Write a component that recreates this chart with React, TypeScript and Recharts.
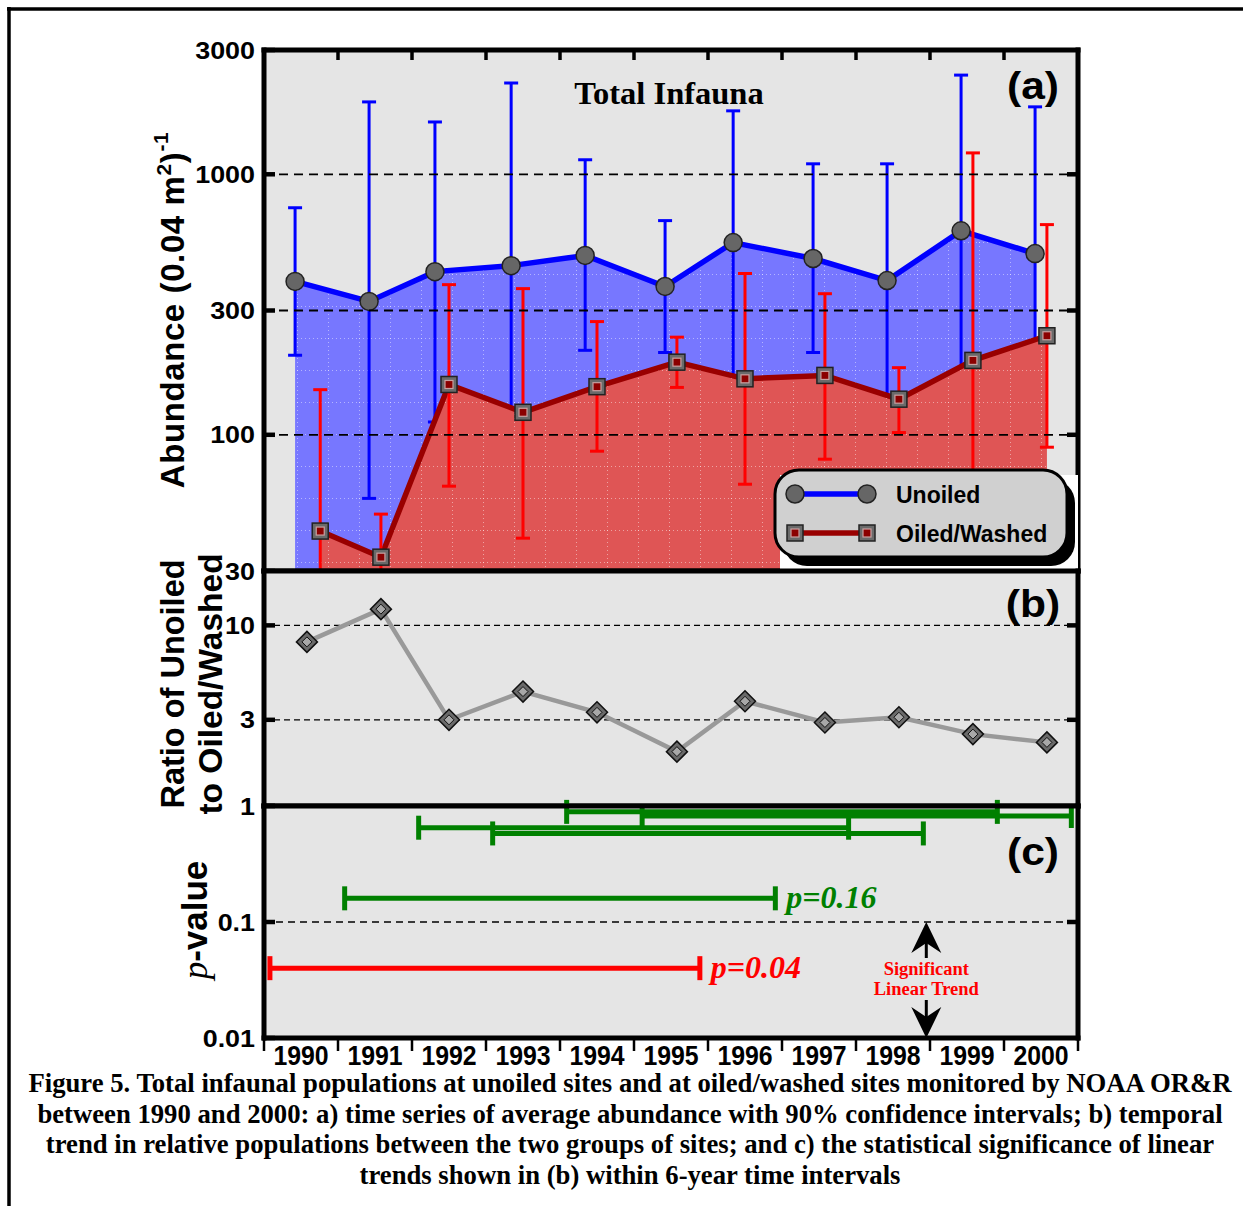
import React from 'react';
import {
  ComposedChart,
  Area,
  Line,
  Scatter,
  ErrorBar,
  XAxis,
  YAxis,
  CartesianGrid,
  ReferenceLine,
  Legend,
} from 'recharts';

// ---------------------------------------------------------------------------
// Data
// ---------------------------------------------------------------------------
const years = [1990, 1991, 1992, 1993, 1994, 1995, 1996, 1997, 1998, 1999, 2000];

// (a) mean abundance with 90% confidence limits, by sampling time (fractional year)
const unoiledTime = [1989.92, 1990.92, 1991.81, 1992.84, 1993.84, 1994.92, 1995.84, 1996.92, 1997.92, 1998.92, 1999.92];
const unoiledMean = [388, 325, 423, 446, 488, 371, 547, 475, 391, 607, 496];
const unoiledLower = [202, 57, 112, 95, 211, 207, 120, 207, 120, 140, 170];
const unoiledUpper = [744, 1896, 1588, 2241, 1137, 664, 1752, 1097, 1097, 2403, 1815];

const oiledTime = [1990.26, 1991.08, 1992.0, 1993.0, 1994.0, 1995.08, 1996.0, 1997.08, 1998.08, 1999.08, 2000.08];
const oiledMean = [42.7, 33.9, 156, 122, 153, 190, 164, 169, 137, 193, 240];
const oiledLower = [10, 15, 63.5, 40.1, 86.5, 152, 64.6, 80.6, 102, 20, 89.6];
const oiledUpper = [149, 49.6, 377, 364, 272, 237, 416, 348, 181, 1208, 641];

// (b) ratio of unoiled to oiled/washed abundance
const ratioTime = [1990.08, 1991.08, 1992.0, 1993.0, 1994.0, 1995.08, 1996.0, 1997.08, 1998.08, 1999.08, 2000.08];
const ratioValue = [8.1, 12.3, 3.0, 4.3, 3.3, 2.0, 3.8, 2.9, 3.1, 2.5, 2.25];

// (c) p-values of linear trends within 6-year windows
const trendStart = [1989.58, 1990.59, 1991.59, 1992.59, 1993.59, 1994.61];
const trendEnd = [1995.39, 1996.41, 1997.4, 1998.41, 1999.41, 2000.41];
const trendP = [0.04, 0.16, 0.65, 0.58, 0.89, 0.82];
const trendLabel = ['p=0.04', 'p=0.16', '', '', '', ''];
const SIGNIFICANCE = 0.1;

// axis ticks and grid levels
const abundanceDomain: [number, number] = [30, 3000];
const abundanceTicks = [30, 100, 300, 1000, 3000];
const abundanceGrid = [100, 300, 1000];
const ratioDomain: [number, number] = [1, 20];
const ratioTicks = [1, 3, 10];
const ratioGrid = [3, 10];
const pDomain: [number, number] = [0.01, 1];
const pTicks = [0.01, 0.1, 1];
const pTickLabels = [0.01, 0.1];
const pGrid = [0.1];

// ---------------------------------------------------------------------------
// Layout & style
// ---------------------------------------------------------------------------
const PAGE_W = 1243;
const PAGE_H = 1206;
const LEFT = 264;
const RIGHT = 1078;
const PANEL_A = { top: 50, bottom: 571 };
const PANEL_B = { top: 571, bottom: 806 };
const PANEL_C = { top: 806, bottom: 1038 };
const X_DOMAIN: [number, number] = [years[0] - 0.5, years[years.length - 1] + 0.5];
const yearBounds = [...years.map((y) => y - 0.5), years[years.length - 1] + 0.5];
const innerBounds = yearBounds.slice(1, -1);

const PANEL_BG = '#e5e5e5';
const BLUE = '#0000ff';
const DARK_RED = '#990000';
const RED = '#ff0000';
const GREEN = '#008000';
const SANS = "'Liberation Sans', Arial, Helvetica, sans-serif";
const SERIF = "'Liberation Serif', 'Times New Roman', Times, serif";
const AXIS_LINE = { stroke: '#000', strokeWidth: 5, strokeLinecap: 'square' as const };

const unoiledRows = unoiledTime.map((x, i) => ({
  x,
  y: unoiledMean[i],
  err: [unoiledMean[i] - unoiledLower[i], unoiledUpper[i] - unoiledMean[i]],
}));
const oiledRows = oiledTime.map((x, i) => ({
  x,
  y: oiledMean[i],
  err: [oiledMean[i] - oiledLower[i], oiledUpper[i] - oiledMean[i]],
}));
const ratioRows = ratioTime.map((x, i) => ({ x, y: ratioValue[i] }));
const trendRows = trendStart.map((x, i) => ({
  x,
  y: trendP[i],
  err: [0, trendEnd[i] - x],
}));
const trendEndRows = trendEnd.map((x, i) => ({
  x,
  y: trendP[i],
  label: trendLabel[i],
  color: trendP[i] < SIGNIFICANCE ? RED : GREEN,
}));

// pixel helpers for the annotation arrows on panel (c)
const xPx = (v: number) => LEFT + ((v - X_DOMAIN[0]) / (X_DOMAIN[1] - X_DOMAIN[0])) * (RIGHT - LEFT);
const yPxC = (p: number) =>
  PANEL_C.top +
  ((Math.log10(pDomain[1]) - Math.log10(p)) / (Math.log10(pDomain[1]) - Math.log10(pDomain[0]))) *
    (PANEL_C.bottom - PANEL_C.top);

// ---------------------------------------------------------------------------
// Tick renderers
// ---------------------------------------------------------------------------
const TICK_MARGIN = 9;

const makeLeftTick = (labelled: number[]) => (props: any) => {
  const { x, y, payload, index } = props;
  const axisX = x + TICK_MARGIN;
  const show = labelled.includes(payload.value);
  return (
    <g key={`lt-${index}`}>
      <line x1={axisX} x2={axisX + 11} y1={y} y2={y} stroke="#000" strokeWidth={4.5} />
      {show && (
        <text
          transform={`translate(${x},${y}) scale(1.12,1)`}
          dy="0.36em"
          textAnchor="end"
          fontFamily={SANS}
          fontWeight="bold"
          fontSize={24}
          fill="#000"
        >
          {String(payload.value)}
        </text>
      )}
    </g>
  );
};

const RightTick = (props: any) => {
  const { x, y, index } = props;
  return <line key={`rt-${index}`} x1={x - 11} x2={x} y1={y} y2={y} stroke="#000" strokeWidth={4.5} />;
};

// inward ticks on the top edge of panel (a)
const TopTick = (props: any) => {
  const { x, y, index } = props;
  return <line key={`tt-${index}`} x1={x} x2={x} y1={y - 1} y2={y + 10} stroke="#000" strokeWidth={3.5} />;
};

// year separators below panel (c)
const SepTick = (props: any) => {
  const { x, y, index } = props;
  return <line key={`st-${index}`} x1={x} x2={x} y1={y - 1} y2={y + 12} stroke="#000" strokeWidth={2.5} />;
};

const YearTick = (props: any) => {
  const { x, y, payload, index } = props;
  return (
    <text
      key={`yr-${index}`}
      transform={`translate(${x},${y + 27}) scale(0.92,1)`}
      textAnchor="middle"
      fontFamily={SANS}
      fontWeight="bold"
      fontSize={27}
      fill="#000"
    >
      {payload.value}
    </text>
  );
};

// ---------------------------------------------------------------------------
// Markers
// ---------------------------------------------------------------------------
const CircleMark = ({ cx, cy }: { cx: number; cy: number }) => (
  <circle cx={cx} cy={cy} r={9} fill="#666" stroke="#222" strokeWidth={1.5} />
);
const SquareMark = ({ cx, cy }: { cx: number; cy: number }) => (
  <g>
    <rect x={cx - 8} y={cy - 8} width={16} height={16} fill="#6a6a6a" stroke="#222" strokeWidth={1.5} />
    <rect x={cx - 4} y={cy - 4} width={8} height={8} fill="#8b0000" stroke="#c8a0a0" strokeWidth={1.2} />
  </g>
);
const DiamondMark = ({ cx, cy }: { cx: number; cy: number }) => (
  <g>
    <path d={`M${cx} ${cy - 10.5}L${cx + 10.5} ${cy}L${cx} ${cy + 10.5}L${cx - 10.5} ${cy}Z`} fill="#6a6a6a" stroke="#111" strokeWidth={1.5} />
    <path d={`M${cx} ${cy - 5}L${cx + 5} ${cy}L${cx} ${cy + 5}L${cx - 5} ${cy}Z`} fill="#a8a8a8" stroke="#111" strokeWidth={1} />
  </g>
);

const unoiledDot = (p: any) => <CircleMark key={`u-${p.index}`} cx={p.cx} cy={p.cy} />;
const oiledDot = (p: any) => <SquareMark key={`o-${p.index}`} cx={p.cx} cy={p.cy} />;
const ratioDot = (p: any) => <DiamondMark key={`r-${p.index}`} cx={p.cx} cy={p.cy} />;
const Empty = () => <g />;
const TrendLabel = (p: any) =>
  p.payload && p.payload.label ? (
    <text x={p.cx + 11} y={p.cy + 10} fill={p.payload.color} fontFamily={SERIF} fontStyle="italic" fontWeight="bold" fontSize={32}>
      {p.payload.label}
    </text>
  ) : (
    <g />
  );

// ---------------------------------------------------------------------------
// Legend of panel (a)
// ---------------------------------------------------------------------------
const legendEntries = [
  { name: 'Unoiled', color: BLUE, Mark: CircleMark },
  { name: 'Oiled/Washed', color: DARK_RED, Mark: SquareMark },
];

const AbundanceLegend = () => (
  <svg width={312} height={112} style={{ display: 'block' }}>
    <rect x={10} y={15} width={298} height={97} fill="#fff" />
    <rect x={13} y={19} width={292} height={87} rx={24} fill="#000" />
    <rect x={5} y={10} width={292} height={87} rx={24} fill="#d0d0d0" stroke="#000" strokeWidth={3} />
    {legendEntries.map(({ name, color, Mark }, i) => {
      const cy = 34 + i * 39;
      return (
        <g key={name}>
          <line x1={25} x2={97} y1={cy} y2={cy} stroke={color} strokeWidth={5.5} />
          <Mark cx={25} cy={cy} />
          <Mark cx={97} cy={cy} />
          <text x={126} y={cy + 9} fontFamily={SANS} fontWeight="bold" fontSize={23} fill="#000">
            {name}
          </text>
        </g>
      );
    })}
  </svg>
);

// ---------------------------------------------------------------------------
// Shared axis frame for a panel
// ---------------------------------------------------------------------------
type FrameOpts = {
  domain: [number, number];
  ticks: number[];
  labelled: number[];
  rightTicks: number[];
  topTicks?: boolean;
  visible: boolean;
};

const chartBox: React.CSSProperties = { position: 'absolute', left: 0, top: 0 };
const margins = (top: number, bottom: number, bottomAxes = 1) => ({
  top: top - 1,
  bottom: PAGE_H - bottom - bottomAxes,
  left: LEFT - 1,
  right: PAGE_W - RIGHT - 1,
});

function frameAxes(o: FrameOpts) {
  const line = o.visible ? AXIS_LINE : false;
  return [
    <XAxis
      key="top"
      xAxisId="top"
      orientation="top"
      type="number"
      dataKey="x"
      domain={X_DOMAIN}
      allowDataOverflow
      height={1}
      ticks={o.topTicks ? innerBounds : []}
      tickSize={0}
      tickMargin={0}
      tick={o.visible && o.topTicks ? TopTick : false}
      tickLine={false}
      axisLine={line}
    />,
    <YAxis
      key="left"
      type="number"
      scale="log"
      dataKey="y"
      domain={o.domain}
      allowDataOverflow
      width={1}
      ticks={o.ticks}
      tickSize={0}
      tickMargin={TICK_MARGIN}
      tickLine={false}
      axisLine={line}
      tick={o.visible ? makeLeftTick(o.labelled) : false}
    />,
    <YAxis
      key="right"
      yAxisId="right"
      orientation="right"
      type="number"
      scale="log"
      domain={o.domain}
      allowDataOverflow
      width={1}
      ticks={o.rightTicks}
      tickSize={0}
      tickMargin={0}
      tickLine={false}
      axisLine={line}
      tick={o.visible ? RightTick : false}
    />,
  ];
}

const aFrame = (visible: boolean) =>
  frameAxes({ domain: abundanceDomain, ticks: abundanceTicks, labelled: abundanceTicks, rightTicks: abundanceGrid, topTicks: true, visible });

// Panel (a), lower layer: background, unoiled series
function PanelAUnder() {
  return (
    <div style={chartBox}>
      <ComposedChart width={PAGE_W} height={PAGE_H} margin={margins(PANEL_A.top, PANEL_A.bottom)}>
        <defs>
          <pattern id="unoiledFill" patternUnits="userSpaceOnUse" x={266} y={50} width={31} height={32}>
            <rect width={31} height={32} fill="#7777ff" />
            <path d="M0.5 0V32M0 0.5H31" stroke="#fff" strokeOpacity={0.45} strokeWidth={1} strokeDasharray="1 3" />
          </pattern>
          <pattern id="oiledFill" patternUnits="userSpaceOnUse" x={266} y={50} width={31} height={32}>
            <rect width={31} height={32} fill="#df5555" />
            <path d="M0.5 0V32M0 0.5H31" stroke="#fff" strokeOpacity={0.45} strokeWidth={1} strokeDasharray="1 3" />
          </pattern>
        </defs>
        <CartesianGrid fill={PANEL_BG} horizontal={false} vertical={false} />
        <XAxis type="number" dataKey="x" domain={X_DOMAIN} allowDataOverflow height={1} tick={false} tickLine={false} axisLine={false} />
        {aFrame(false)}
        <Area data={unoiledRows} dataKey="y" type="linear" baseValue="dataMin" fill="url(#unoiledFill)" fillOpacity={1} stroke="none" legendType="none" isAnimationActive={false} />
        <Line data={unoiledRows} dataKey="y" name="Unoiled" type="linear" stroke={BLUE} strokeWidth={5.5} dot={unoiledDot} activeDot={false} isAnimationActive={false} />
        <Scatter data={unoiledRows} dataKey="y" shape={Empty} legendType="none" isAnimationActive={false}>
          <ErrorBar dataKey="err" direction="y" width={7} stroke={BLUE} strokeWidth={3} isAnimationActive={false} />
        </Scatter>
      </ComposedChart>
    </div>
  );
}

// Panel (a), upper layer: oiled/washed series, grid lines, axes and legend
function PanelAOver() {
  return (
    <div style={chartBox}>
      <ComposedChart width={PAGE_W} height={PAGE_H} margin={margins(PANEL_A.top, PANEL_A.bottom)}>
        <XAxis type="number" dataKey="x" domain={X_DOMAIN} allowDataOverflow height={1} tick={false} tickLine={false} axisLine={AXIS_LINE} />
        {aFrame(true)}
        <Area data={oiledRows} dataKey="y" type="linear" baseValue="dataMin" fill="url(#oiledFill)" fillOpacity={1} stroke="none" legendType="none" isAnimationActive={false} />
        <Line data={oiledRows} dataKey="y" name="Oiled/Washed" type="linear" stroke={DARK_RED} strokeWidth={5.5} dot={oiledDot} activeDot={false} isAnimationActive={false} />
        <Scatter data={oiledRows} dataKey="y" shape={Empty} legendType="none" isAnimationActive={false}>
          <ErrorBar dataKey="err" direction="y" width={7} stroke={RED} strokeWidth={3} isAnimationActive={false} />
        </Scatter>
        {abundanceGrid.map((v) => (
          <ReferenceLine key={v} y={v} stroke="#000" strokeWidth={1.8} strokeDasharray="9 6" />
        ))}
        <Legend
          layout="vertical"
          align="center"
          verticalAlign="middle"
          content={AbundanceLegend}
          wrapperStyle={{ left: 770, top: 460, width: 312, height: 112 }}
        />
      </ComposedChart>
    </div>
  );
}

function PanelB() {
  return (
    <div style={chartBox}>
      <ComposedChart width={PAGE_W} height={PAGE_H} margin={margins(PANEL_B.top, PANEL_B.bottom)}>
        <CartesianGrid fill={PANEL_BG} horizontal={false} vertical={false} />
        <XAxis type="number" dataKey="x" domain={X_DOMAIN} allowDataOverflow height={1} tick={false} tickLine={false} axisLine={AXIS_LINE} />
        {frameAxes({ domain: ratioDomain, ticks: ratioTicks, labelled: ratioTicks, rightTicks: ratioGrid, visible: true })}
        {ratioGrid.map((v) => (
          <ReferenceLine key={v} y={v} stroke="#000" strokeWidth={1.3} strokeDasharray="6 4" />
        ))}
        <Line data={ratioRows} dataKey="y" type="linear" stroke="#999999" strokeWidth={4.5} dot={ratioDot} activeDot={false} isAnimationActive={false} />
      </ComposedChart>
    </div>
  );
}

function PanelC() {
  const significant = trendRows.filter((r) => r.y < SIGNIFICANCE);
  const other = trendRows.filter((r) => r.y >= SIGNIFICANCE);
  return (
    <div style={chartBox}>
      <ComposedChart width={PAGE_W} height={PAGE_H} margin={margins(PANEL_C.top, PANEL_C.bottom, 2)}>
        <CartesianGrid fill={PANEL_BG} horizontal={false} vertical={false} />
        <XAxis
          type="number"
          dataKey="x"
          domain={X_DOMAIN}
          allowDataOverflow
          height={1}
          ticks={years}
          tickSize={0}
          tickMargin={0}
          tickLine={false}
          tick={YearTick}
          axisLine={AXIS_LINE}
        />
        <XAxis
          xAxisId="sep"
          type="number"
          dataKey="x"
          domain={X_DOMAIN}
          allowDataOverflow
          height={1}
          ticks={yearBounds}
          tickSize={0}
          tickMargin={0}
          tick={SepTick}
          tickLine={false}
          axisLine={false}
        />
        {frameAxes({ domain: pDomain, ticks: pTicks, labelled: pTickLabels, rightTicks: pGrid, visible: true })}
        {pGrid.map((v) => (
          <ReferenceLine key={v} y={v} stroke="#000" strokeWidth={1.5} strokeDasharray="7 5" />
        ))}
        <Scatter data={other} dataKey="y" shape={Empty} legendType="none" isAnimationActive={false}>
          <ErrorBar dataKey="err" direction="x" width={12} stroke={GREEN} strokeWidth={5} isAnimationActive={false} />
        </Scatter>
        <Scatter data={significant} dataKey="y" shape={Empty} legendType="none" isAnimationActive={false}>
          <ErrorBar dataKey="err" direction="x" width={12} stroke={RED} strokeWidth={5} isAnimationActive={false} />
        </Scatter>
        <Scatter data={trendEndRows} dataKey="y" shape={TrendLabel} legendType="none" isAnimationActive={false} />
      </ComposedChart>
    </div>
  );
}

// ---------------------------------------------------------------------------
// Titles, annotations and caption
// ---------------------------------------------------------------------------
const captionLines = [
  'Figure 5. Total infaunal populations at unoiled sites and at oiled/washed sites monitored by NOAA OR&R',
  'between 1990 and 2000: a) time series of average abundance with 90% confidence intervals; b) temporal',
  'trend in relative populations between the two groups of sites; and c) the statistical significance of linear',
  'trends shown in (b) within 6-year time intervals',
];

function Overlay() {
  const ax = xPx(1998.45);
  const upTip = yPxC(0.1);
  const downTip = yPxC(0.01);
  const head = (tipY: number, dir: 1 | -1) =>
    `M${ax} ${tipY}L${ax - 15} ${tipY + dir * 31}L${ax} ${tipY + dir * 21}L${ax + 15} ${tipY + dir * 31}Z`;
  const panelLabel = (txt: string, y: number) => (
    <text transform={`translate(1033,${y}) scale(1.12,1)`} textAnchor="middle" fontFamily={SANS} fontWeight="bold" fontSize={38} fill="#000">
      {txt}
    </text>
  );
  return (
    <svg width={PAGE_W} height={PAGE_H} style={{ position: 'absolute', left: 0, top: 0, pointerEvents: 'none' }}>
      {/* outer frame */}
      <line x1={7} x2={PAGE_W} y1={9} y2={9} stroke="#000" strokeWidth={3.5} />
      <line x1={9} x2={9} y1={7} y2={PAGE_H} stroke="#000" strokeWidth={3.5} />

      <text x={669} y={104} textAnchor="middle" fontFamily={SERIF} fontWeight="bold" fontSize={32.5} fill="#000">
        Total Infauna
      </text>
      {panelLabel('(a)', 99)}
      {panelLabel('(b)', 617)}
      {panelLabel('(c)', 865)}

      {/* axis titles */}
      <text transform="translate(184,310) rotate(-90)" textAnchor="middle" fontFamily={SANS} fontWeight="bold" fontSize={33} letterSpacing={0.6} fill="#000">
        Abundance (0.04 m
        <tspan dy={-13} fontSize={21}>2</tspan>
        <tspan dy={13}>)</tspan>
        <tspan dy={-16} fontSize={21}>-1</tspan>
      </text>
      <text transform="translate(184,684) rotate(-90)" textAnchor="middle" fontFamily={SANS} fontWeight="bold" fontSize={32.5} fill="#000">
        Ratio of Unoiled
      </text>
      <text transform="translate(222,684) rotate(-90)" textAnchor="middle" fontFamily={SANS} fontWeight="bold" fontSize={33.5} fill="#000">
        to Oiled/Washed
      </text>
      <text transform="translate(207,920) rotate(-90)" textAnchor="middle" fontSize={35} fill="#000">
        <tspan fontFamily={SERIF} fontStyle="italic">p</tspan>
        <tspan fontFamily={SANS} fontWeight="bold">-value</tspan>
      </text>

      {/* significance annotation */}
      <line x1={ax} x2={ax} y1={upTip + 20} y2={upTip + 36} stroke="#000" strokeWidth={3} />
      <path d={head(upTip, 1)} fill="#000" />
      <line x1={ax} x2={ax} y1={downTip - 20} y2={downTip - 38} stroke="#000" strokeWidth={3} />
      <path d={head(downTip, -1)} fill="#000" />
      <text x={ax} y={975} textAnchor="middle" fontFamily={SERIF} fontWeight="bold" fontSize={18.5} fill={RED}>
        Significant
      </text>
      <text x={ax} y={995} textAnchor="middle" fontFamily={SERIF} fontWeight="bold" fontSize={18.5} fill={RED}>
        Linear Trend
      </text>

      {/* caption */}
      {captionLines.map((line, i) => (
        <text key={i} x={630} y={1092 + i * 30.7} textAnchor="middle" fontFamily={SERIF} fontWeight="bold" fontSize={26.7} fill="#000">
          {line}
        </text>
      ))}
    </svg>
  );
}

export default function App() {
  return (
    <div style={{ position: 'absolute', left: 0, top: 0, width: PAGE_W, height: PAGE_H, background: '#fff' }}>
      <PanelAUnder />
      <PanelAOver />
      <PanelB />
      <PanelC />
      <Overlay />
    </div>
  );
}
